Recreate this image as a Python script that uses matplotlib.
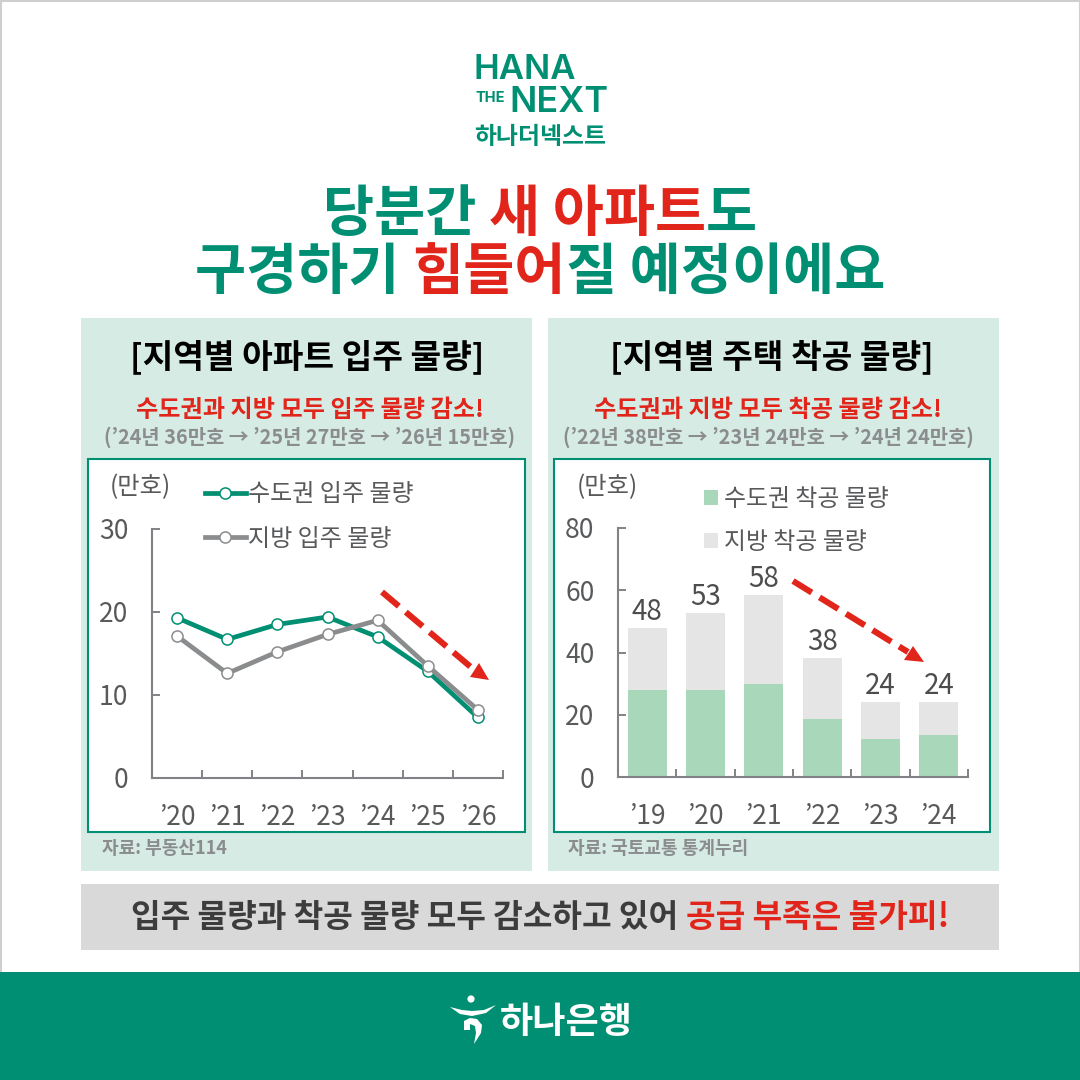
import matplotlib
matplotlib.use("Agg")
import matplotlib.pyplot as plt
from matplotlib.patches import Rectangle, Polygon, Circle, Patch
from matplotlib.lines import Line2D

plt.rcParams['font.family'] = ['Noto Sans CJK KR', 'DejaVu Sans']

# ---- data ----
line_years = ["’20", "’21", "’22", "’23", "’24", "’25", "’26"]
metro_move_in = [19.3, 16.7, 18.5, 19.4, 17.0, 12.85, 7.3]
local_move_in = [17.1, 12.6, 15.2, 17.3, 19.0, 13.5, 8.2]
bar_years = ["’19", "’20", "’21", "’22", "’23", "’24"]
metro_starts = [27.9, 27.9, 29.8, 18.6, 12.2, 13.5]
total_starts = [47.8, 52.6, 58.4, 38.2, 24.1, 24.1]
total_labels = ["48", "53", "58", "38", "24", "24"]
line_ticks = [0, 10, 20, 30]
bar_ticks = [0, 20, 40, 60, 80]

GREEN = "#008f72"
RED = "#e1251b"
PANEL = "#d6ebe4"
AXIS = "#808285"
TICKTXT = "#58595b"
GRAYTXT = "#8a8c8e"
LINEGRAY = "#8a8c8e"
W = 1080

fig = plt.figure(figsize=(10.8, 10.8), dpi=100, facecolor="white")
bg = fig.add_axes([0, 0, 1, 1], zorder=0)
bg.set_xlim(0, W); bg.set_ylim(W, 0); bg.axis("off")
top = fig.add_axes([0, 0, 1, 1], zorder=5)
top.set_xlim(0, W); top.set_ylim(W, 0); top.axis("off"); top.patch.set_alpha(0)


def rect(x0, y0, x1, y1, **kw):
    bg.add_patch(Rectangle((x0, y0), x1 - x0, y1 - y0, **kw))


rect(0.5, 0.5, 1079.5, 1079.5, fc="none", ec="#cfcfcf", lw=1.5)
rect(81, 318, 532, 871, fc=PANEL, ec="none")
rect(548, 318, 999, 871, fc=PANEL, ec="none")
rect(88, 459, 525, 832, fc="white", ec=GREEN, lw=1.5)
rect(554, 459, 990, 832, fc="white", ec=GREEN, lw=1.5)
rect(81, 884, 999, 950, fc="#d9d9d9", ec="none")
rect(0, 972, W, W, fc=GREEN, ec="none")

renderer = fig.canvas.get_renderer()


def tw(s, **kw):
    t = bg.text(0, 0, s + "|", **kw)
    a = t.get_window_extent(renderer).width
    t.set_text("|")
    b = t.get_window_extent(renderer).width
    t.remove()
    return a - b


def segs(cx, y, parts, **kw):
    full = "".join(p[0] for p in parts)
    x0 = cx - tw(full, **kw) / 2
    pre = ""
    for s, c in parts:
        bg.text(x0 + tw(pre, **kw), y, s, color=c, ha="left", va="center", **kw)
        pre += s


# ---- header ----
bg.text(474, 70, "HANA", color=GREEN, fontsize=25, family="Inter", weight="semibold", ha="left", va="center")
bg.text(475, 98, "THE", color=GREEN, fontsize=10.5, family="Inter", weight="bold", ha="left", va="center")
bg.text(509, 102, "NEXT", color=GREEN, fontsize=26, family="Inter", weight="semibold", ha="left", va="center")
bg.text(540, 137, "하나더넥스트", color=GREEN, fontsize=17.2, weight="bold", ha="center", va="center")

kw = dict(fontsize=40, weight="bold")
segs(540, 215, [("당분간 ", GREEN), ("새 아파트", RED), ("도", GREEN)], **kw)
segs(540, 273, [("구경하기 ", GREEN), ("힘들어", RED), ("질 예정이에요", GREEN)], **kw)

# ---- panel headers ----
for cx, tx, title, sub, note, src, sx in [
    (306, 310, "[지역별 아파트 입주 물량]", "수도권과 지방 모두 입주 물량 감소!",
     "(’24년 36만호 → ’25년 27만호 → ’26년 15만호)", "자료: 부동산114", 102),
    (771, 768, "[지역별 주택 착공 물량]", "수도권과 지방 모두 착공 물량 감소!",
     "(’22년 38만호 → ’23년 24만호 → ’24년 24만호)", "자료: 국토교통 통계누리", 568),
]:
    bg.text(cx + 1, 357, title, color="black", fontsize=24, weight="bold", ha="center", va="center")
    bg.text(tx, 410, sub, color=RED, fontsize=17.4, weight="bold", ha="center", va="center")
    bg.text(tx, 437, note, color=GRAYTXT, fontsize=14.3, weight="bold", ha="center", va="center")
    bg.text(sx, 849, src, color=GRAYTXT, fontsize=13, weight="bold", ha="left", va="center")

segs(540, 918, [("입주 물량과 착공 물량 모두 감소하고 있어 ", "#3c3c3c"), ("공급 부족은 불가피!", RED)],
     fontsize=23.2, weight="bold")

# ---- footer ----
bg.text(500, 1022, "하나은행", color="white", fontsize=26, weight="bold", ha="left", va="center")
bg.add_patch(Circle((471, 999), 3.6, fc="white", ec="none"))
bg.add_patch(Polygon([(450, 1007), (462, 1010), (472, 1011), (484, 1010), (496, 1005),
                      (486, 1013), (472, 1016), (460, 1014)], fc="white", ec="none"))
bg.add_patch(Polygon([(464, 1021), (470, 1018), (477, 1019), (482, 1025), (481, 1033),
                      (474, 1044), (476, 1033), (475, 1026), (470, 1024), (470, 1030), (464, 1030)],
                     fc="white", ec="none"))


def inset(l, r, t, b):
    ax = fig.add_axes([l / W, 1 - b / W, (r - l) / W, (b - t) / W], zorder=2)
    ax.patch.set_alpha(0)
    for s in ("top", "right"):
        ax.spines[s].set_visible(False)
    for s in ("left", "bottom"):
        ax.spines[s].set_color(AXIS); ax.spines[s].set_linewidth(1.5)
    ax.tick_params(which="major", direction="in", length=5.8, width=1.4, color=AXIS)
    ax.tick_params(axis="y", which="major", pad=17, labelsize=19, labelcolor=TICKTXT)
    ax.tick_params(axis="x", which="minor", length=0, pad=18.5, labelsize=19, labelcolor=TICKTXT)
    ax.tick_params(axis="x", which="major", labelbottom=False)
    return ax


# ---- line chart ----
ax1 = inset(152, 503, 529, 778)
xs = list(range(len(line_years)))
ax1.set_xlim(-0.5, len(line_years) - 0.5); ax1.set_ylim(line_ticks[0], line_ticks[-1])
ax1.set_yticks(line_ticks)
ax1.set_xticks([i - 0.5 for i in range(len(line_years) + 1)])
ax1.set_xticks(xs, labels=line_years, minor=True)
l_m, = ax1.plot(xs, metro_move_in, color=GREEN, lw=3.4, marker="o", ms=8, mfc="white", mew=1.1, mec=GREEN,
                clip_on=False, label="수도권 입주 물량", zorder=3)
l_l, = ax1.plot(xs, local_move_in, color=LINEGRAY, lw=3.4, marker="o", ms=8, mfc="white", mew=1.1, mec=LINEGRAY,
                clip_on=False, label="지방 입주 물량", zorder=4)
ax1.legend(handles=[l_m, l_l], loc="upper left", bbox_to_anchor=(205, 481), bbox_transform=bg.transData,
           frameon=False, fontsize=17.3, numpoints=1, handlelength=1.7, handletextpad=0.1,
           borderpad=0, borderaxespad=0, labelspacing=0.77, labelcolor=TICKTXT)

# ---- bar chart ----
ax2 = inset(618, 968, 528, 777)
xb = list(range(len(bar_years)))
ax2.set_xlim(-0.5, len(bar_years) - 0.5); ax2.set_ylim(bar_ticks[0], bar_ticks[-1])
ax2.set_yticks(bar_ticks)
ax2.set_xticks([i - 0.5 for i in range(len(bar_years) + 1)])
ax2.set_xticks(xb, labels=bar_years, minor=True)
local_starts = [t - m for t, m in zip(total_starts, metro_starts)]
b1 = ax2.bar(xb, metro_starts, width=0.67, color="#a8d8b9", label="수도권 착공 물량", zorder=2)
b2 = ax2.bar(xb, local_starts, bottom=metro_starts, width=0.67, color="#e5e5e5", label="지방 착공 물량", zorder=2)
ax2.bar_label(b2, labels=total_labels, padding=1, fontsize=20, color="#4d4d4f")
ax2.legend(handles=[Patch(fc="#a8d8b9", label="수도권 착공 물량"), Patch(fc="#e5e5e5", label="지방 착공 물량")],
           loc="upper left", bbox_to_anchor=(704, 488), bbox_transform=bg.transData, frameon=False, fontsize=17.2,
           handlelength=0.58, handleheight=0.58, handletextpad=0.25, borderpad=0, borderaxespad=0,
           labelspacing=0.83, labelcolor=TICKTXT)

for x in (110, 577):
    top.text(x, 487, "(만호)", color=TICKTXT, fontsize=17.5, ha="left", va="center")


# ---- trend arrows ----
def trend(start, stem_end, head):
    top.add_line(Line2D([start[0], stem_end[0]], [start[1], stem_end[1]], color=RED, lw=4.4,
                        dashes=(3.6, 1.5), dash_capstyle="butt"))
    top.add_patch(Polygon(head, fc=RED, ec="none"))


trend((382, 592), (472, 668), [(470, 677), (479, 663), (489, 680)])
trend((793, 581), (908, 652), [(904, 660), (913, 646), (924, 662)])

fig.savefig("out.png", dpi=100)
